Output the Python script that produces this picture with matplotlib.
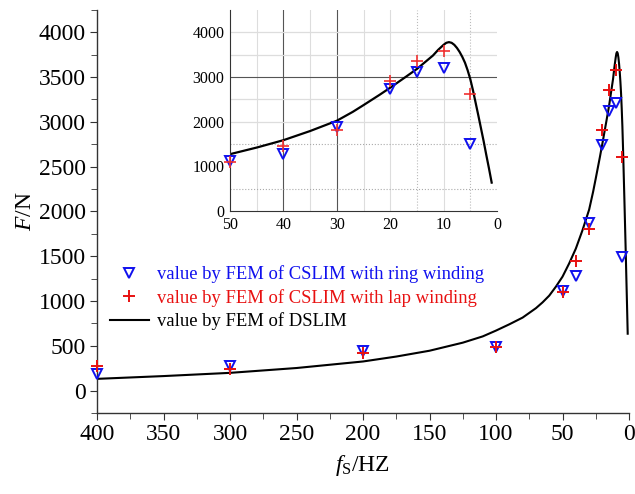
import matplotlib
matplotlib.use("Agg")
import matplotlib.pyplot as plt
from matplotlib.ticker import MultipleLocator

plt.rcParams['font.family'] = ['Liberation Serif', 'DejaVu Serif']
plt.rcParams['mathtext.fontset'] = 'custom'
plt.rcParams['mathtext.rm'] = 'Liberation Serif'
plt.rcParams['mathtext.it'] = 'Liberation Serif:italic'

# FEM sample frequencies (Hz)
f_pts = [400, 300, 200, 100, 50, 40, 30, 20, 15, 10, 5]
ring = [190, 270, 440, 485, 1110, 1280, 1870, 2740, 3120, 3210, 1495]
lap = [270, 245, 415, 490, 1100, 1445, 1805, 2910, 3360, 3575, 2610]

# DSLIM curve
f_line = [400, 350, 300, 250, 200, 175, 150, 125, 110, 100, 90, 80, 70, 65,
          60, 55, 50, 45, 40, 35, 30, 27, 25, 22, 20, 17, 15, 13, 12, 11, 10,
          9.5, 9, 8.5, 8, 7.5, 7, 6.5, 6, 5.5, 5, 4.5, 4, 3.5, 3, 2.5, 2,
          1.5, 1]
F_line = [131, 162, 198, 252, 325, 380, 445, 535, 605, 670, 740, 815, 920,
          985, 1060, 1160, 1272, 1420, 1585, 1790, 2020, 2220, 2370, 2600,
          2760, 3010, 3180, 3380, 3480, 3610, 3720, 3765, 3780, 3765, 3720,
          3650, 3560, 3450, 3320, 3150, 2950, 2700, 2420, 2140, 1850, 1560,
          1250, 950, 635]

lbl_ring = 'value by FEM of CSLIM with ring winding'
lbl_lap = 'value by FEM of CSLIM with lap winding'
lbl_line = 'value by FEM of DSLIM'

BLUE = '#1010ee'
RED = '#e81010'

fig = plt.figure(figsize=(6.35, 4.94), dpi=100)
ax = fig.add_axes([0.1528, 0.164, 0.9906 - 0.1528, 0.980 - 0.164])

h1, = ax.plot(f_pts, ring, linestyle='none', marker='v', ms=7.5, mfc='none',
              mec=BLUE, mew=1.4, label=lbl_ring, clip_on=False, zorder=4)
h2, = ax.plot(f_pts, lap, linestyle='none', marker='+', ms=8, mec=RED,
              mew=1.4, label=lbl_lap, clip_on=False, zorder=4)
h3, = ax.plot(f_line, F_line, color='black', lw=1.5, label=lbl_line)

ax.set_xlim(400, 0)
ax.set_ylim(-250, 4250)
ax.xaxis.set_major_locator(MultipleLocator(50))
ax.xaxis.set_minor_locator(MultipleLocator(25))
ax.yaxis.set_major_locator(MultipleLocator(500))
ax.yaxis.set_minor_locator(MultipleLocator(250))
ax.spines['top'].set_visible(False)
ax.spines['right'].set_visible(False)
for s in ('left', 'bottom'):
    ax.spines[s].set_color('#333333')
    ax.spines[s].set_linewidth(1.0)
ax.tick_params(axis='both', which='major', labelsize=17, length=5,
               direction='out', color='#333333', pad=3)
ax.tick_params(axis='both', which='minor', length=4, direction='out',
               color='#333333')
ax.set_xlabel(r'$f_{\mathrm{S}}$/HZ', fontsize=17, labelpad=6)
ax.set_ylabel(r'$F$/N', fontsize=17, labelpad=2)

leg = ax.legend(handles=[h1, h2, h3], loc='upper left',
                bbox_to_anchor=(0.01, 0.385), frameon=False, fontsize=13.4,
                handlelength=2.1, handletextpad=0.45, labelspacing=0.3,
                borderaxespad=0.0)
for t, c in zip(leg.get_texts(), [BLUE, RED, 'black']):
    t.set_color(c)

# inset
axi = fig.add_axes([0.3622, 0.5729, 0.7827 - 0.3622, 0.9798 - 0.5729])
axi.set_xlim(50, 0)
axi.set_ylim(0, 4500)
for x in [45, 35, 25, 20, 10]:
    axi.axvline(x, color='#dddddd', lw=0.8, zorder=0)
for x in [15, 5]:
    axi.axvline(x, color='#bbbbbb', lw=0.8, ls=':', zorder=0)
for x in [40, 30]:
    axi.axvline(x, color='#555555', lw=0.8, zorder=0)
for y in [4000, 3500, 2500, 2000]:
    axi.axhline(y, color='#dddddd', lw=0.9, zorder=0)
for y in [1500, 500]:
    axi.axhline(y, color='#aaaaaa', lw=0.8, ls=':', zorder=0)
axi.axhline(3000, color='#555555', lw=0.8, zorder=0)

sel = [i for i, f in enumerate(f_pts) if f <= 50]
axi.plot([f_pts[i] for i in sel], [ring[i] for i in sel], linestyle='none',
         marker='v', ms=7.5, mfc='none', mec=BLUE, mew=1.4, clip_on=False,
         zorder=4)
axi.plot([f_pts[i] for i in sel], [lap[i] for i in sel], linestyle='none',
         marker='+', ms=8, mec='#f03030', mew=1.2, clip_on=False, zorder=4)
seli = [i for i, f in enumerate(f_line) if f <= 50]
axi.plot([f_line[i] for i in seli], [F_line[i] for i in seli], color='black',
         lw=1.6)
axi.xaxis.set_major_locator(MultipleLocator(10))
axi.yaxis.set_major_locator(MultipleLocator(1000))
axi.spines['top'].set_visible(False)
axi.spines['right'].set_visible(False)
for s in ('left', 'bottom'):
    axi.spines[s].set_color('#333333')
axi.tick_params(axis='both', labelsize=11.5, length=0, pad=4)
axi.patch.set_alpha(0.0)

fig.savefig('out.png', dpi=100)
